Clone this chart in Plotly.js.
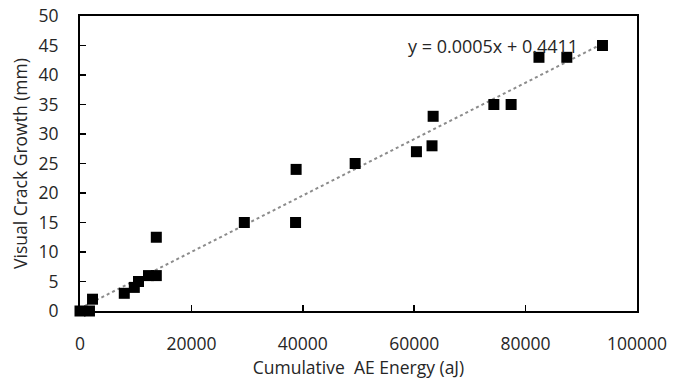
<!DOCTYPE html>
<html>
<head>
<meta charset="utf-8">
<script src="https://cdn.plot.ly/plotly-3.0.1.min.js"></script>
<style>html,body{margin:0;padding:0;background:#fff}#chart{width:673px;height:383px}</style>
</head>
<body>
<div id="chart"></div>
<script>
const aeEnergy = [0, 1700, 2250, 7950, 9750, 10500, 12300, 13700, 13700, 29500, 38700, 38800, 49400, 60400, 63200, 63400, 74300, 77400, 82400, 87400, 93800];
const crackGrowth = [0, 0, 2, 3, 4, 5, 6, 6, 12.5, 15, 15, 24, 25, 27, 28, 33, 35, 35, 43, 43, 45];
const xTicks = [0, 20000, 40000, 60000, 80000, 100000];
const yTicks = [0, 5, 10, 15, 20, 25, 30, 35, 40, 45, 50];
const equationText = 'y = 0.0005x + 0.4411';

// least-squares trendline over data range
const n = aeEnergy.length;
const mx = aeEnergy.reduce((a, b) => a + b, 0) / n;
const my = crackGrowth.reduce((a, b) => a + b, 0) / n;
let sxy = 0, sxx = 0;
for (let i = 0; i < n; i++) { sxy += (aeEnergy[i] - mx) * (crackGrowth[i] - my); sxx += (aeEnergy[i] - mx) ** 2; }
const slope = sxy / sxx, icpt = my - slope * mx;
const xMin = Math.min(...aeEnergy), xMax = Math.max(...aeEnergy);
const trendX = [xMin, xMax];
const trendY = trendX.map(x => slope * x + icpt);

const font = {family: 'Open Sans, Noto Sans, sans-serif', size: 17.5, color: '#262626'};
const eqFont = {family: 'Open Sans, Noto Sans, sans-serif', size: 18, color: '#262626'};

const data = [
  {x: trendX, y: trendY, mode: 'lines', type: 'scatter', line: {color: '#8c8c8c', width: 2, dash: 'dot'}, hoverinfo: 'skip', cliponaxis: false},
  {x: aeEnergy, y: crackGrowth, mode: 'markers', type: 'scatter', marker: {symbol: 'square', size: 11, color: '#000'}, cliponaxis: false}
];

const axisCommon = {showgrid: false, zeroline: false, showline: true, linecolor: '#000', linewidth: 2, mirror: true, ticks: 'inside', ticklen: 6, tickwidth: 1.5, tickcolor: '#000', tickfont: font};

const layout = {
  width: 673, height: 383,
  margin: {l: 80, r: 36, t: 16, b: 72},
  paper_bgcolor: '#fff', plot_bgcolor: '#fff',
  showlegend: false,
  font: font,
  xaxis: Object.assign({}, axisCommon, {range: [0, 100000], tickvals: xTicks, ticktext: xTicks.map(String), ticklabelstandoff: 16,
    title: {text: 'Cumulative\u00a0 AE Energy (aJ)', font: font, standoff: 4}}),
  yaxis: Object.assign({}, axisCommon, {range: [0, 50], tickvals: yTicks, ticktext: yTicks.map(String), ticklabelstandoff: 16,
    title: {text: 'Visual Crack Growth (mm)', font: font, standoff: 6}}),
  annotations: [{x: 58500, y: 45, xref: 'x', yref: 'y', xanchor: 'left', yanchor: 'middle', text: equationText, showarrow: false, font: eqFont}]
};

Plotly.newPlot('chart', data, layout, {displayModeBar: false, staticPlot: true});
</script>
</body>
</html>
